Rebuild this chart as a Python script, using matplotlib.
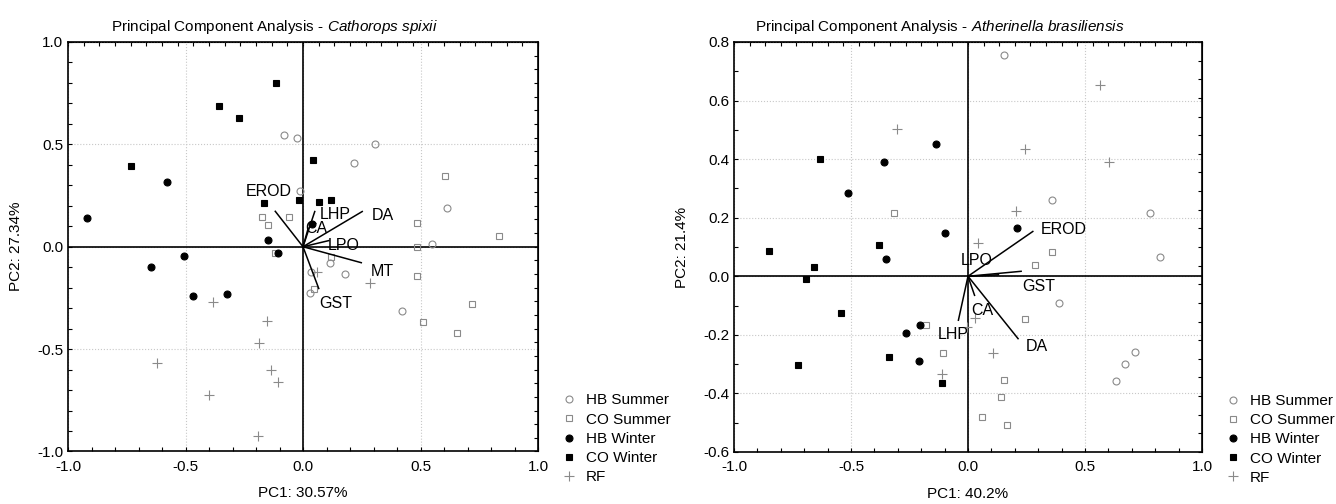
import numpy as np
import matplotlib.pyplot as plt
from matplotlib.ticker import MultipleLocator, FormatStrFormatter
from matplotlib.lines import Line2D

plt.rcParams['font.family'] = ['Liberation Sans', 'DejaVu Sans']
plt.rcParams['mathtext.fontset'] = 'custom'
plt.rcParams['mathtext.rm'] = 'Liberation Sans'
plt.rcParams['mathtext.it'] = 'Liberation Sans:italic'

# ---- Cathorops spixii (left panel) ----
cs_hb_summer_x = [-0.081, -0.025, 0.308, 0.217, -0.012, 0.611, 0.549, 0.114, 0.180, 0.035, 0.031, 0.420]
cs_hb_summer_y = [0.546, 0.533, 0.502, 0.411, 0.274, 0.189, 0.013, -0.081, -0.135, -0.125, -0.226, -0.315]
cs_co_summer_x = [-0.176, -0.061, -0.147, -0.121, 0.606, 0.833, 0.487, 0.483, 0.487, 0.717, 0.512, 0.654, 0.118, 0.046]
cs_co_summer_y = [0.147, 0.147, 0.106, -0.030, 0.346, 0.054, 0.117, 0.000, -0.142, -0.279, -0.370, -0.419, -0.052, -0.205]
cs_hb_winter_x = [-0.918, -0.579, 0.038, -0.147, -0.105, -0.505, -0.645, -0.468, -0.325]
cs_hb_winter_y = [0.139, 0.317, 0.111, 0.035, -0.030, -0.045, -0.101, -0.243, -0.230]
cs_co_winter_x = [-0.116, -0.357, -0.271, -0.732, 0.044, -0.166, -0.017, 0.068, 0.118]
cs_co_winter_y = [0.802, 0.688, 0.631, 0.396, 0.424, 0.212, 0.227, 0.219, 0.227]
cs_rf_x = [0.059, 0.284, -0.383, -0.154, -0.186, -0.621, -0.136, -0.105, -0.400, -0.191]
cs_rf_y = [-0.122, -0.179, -0.269, -0.364, -0.469, -0.569, -0.603, -0.660, -0.726, -0.923]
cs_vars = ['EROD', 'LHP', 'CA', 'DA', 'LPO', 'MT', 'GST']
cs_load_x = [-0.118, 0.050, 0.022, 0.252, 0.110, 0.248, 0.067]
cs_load_y = [0.173, 0.172, 0.090, 0.172, 0.030, -0.078, -0.204]

# ---- Atherinella brasiliensis (right panel) ----
ab_hb_summer_x = [0.153, 0.357, 0.776, 0.820, 0.389, 0.715, 0.672, 0.634]
ab_hb_summer_y = [0.757, 0.261, 0.216, 0.067, -0.091, -0.260, -0.299, -0.358]
ab_co_summer_x = [-0.315, -0.180, -0.105, 0.357, 0.285, 0.245, 0.153, 0.140, 0.061, 0.165]
ab_co_summer_y = [0.216, -0.165, -0.263, 0.083, 0.038, -0.145, -0.353, -0.412, -0.482, -0.508]
ab_hb_winter_x = [-0.136, -0.357, -0.512, -0.099, -0.352, -0.204, -0.265, -0.211, 0.209]
ab_hb_winter_y = [0.453, 0.390, 0.285, 0.147, 0.059, -0.165, -0.194, -0.290, 0.166]
ab_co_winter_x = [-0.634, -0.851, -0.660, -0.382, -0.691, -0.542, -0.726, -0.339, -0.111]
ab_co_winter_y = [0.400, 0.087, 0.033, 0.107, -0.010, -0.125, -0.303, -0.274, -0.363]
ab_rf_x = [-0.303, 0.566, 0.245, 0.603, 0.203, 0.043, 0.030, -0.006, -0.112, 0.106]
ab_rf_y = [0.504, 0.654, 0.435, 0.391, 0.222, 0.114, -0.142, -0.173, -0.332, -0.261]
ab_vars = ['EROD', 'LPO', 'GST', 'CA', 'LHP', 'DA']
ab_load_x = [0.277, 0.130, 0.227, 0.028, -0.041, 0.214]
ab_load_y = [0.153, 0.005, 0.017, -0.065, -0.150, -0.213]

group_names = ['HB Summer', 'CO Summer', 'HB Winter', 'CO Winter', 'RF']
GRAY = '#8a8a8a'
styles = [
    dict(marker='o', mfc='none', mec=GRAY, ms=5, mew=0.8),
    dict(marker='s', mfc='none', mec=GRAY, ms=5, mew=0.8),
    dict(marker='o', mfc='black', mec='black', ms=5, mew=0.8),
    dict(marker='s', mfc='black', mec='black', ms=5, mew=0.8),
    dict(marker='+', mfc='none', mec=GRAY, ms=7, mew=0.8),
]

# label offsets (points) from vector ends
cs_offsets = {'EROD': (-5, 14), 'LHP': (15, -2), 'CA': (6, 0), 'DA': (15, -3),
              'LPO': (11, -3.5), 'MT': (15, -6), 'GST': (12.5, -11)}
ab_offsets = {'EROD': (22.5, 1.3), 'LPO': (-15.5, 10), 'GST': (12.5, -11),
              'CA': (5.5, -11), 'LHP': (-4, -10), 'DA': (13.5, -6)}


def pca_panel(ax, groups, vars_, lx, ly, offsets, yticks, yminor, ylim, right_n, title, xlabel, ylabel):
    for (gx, gy), st, name in zip(groups, styles, group_names):
        ax.plot(gx, gy, ls='none', label=name, zorder=3, **st)
    ax.axhline(0, color='black', lw=1.2, zorder=2)
    ax.axvline(0, color='black', lw=1.2, zorder=2)
    for name, vx, vy in zip(vars_, lx, ly):
        ax.plot([0, vx], [0, vy], color='black', lw=1.1, zorder=4)
        ax.annotate(name, (vx, vy), xytext=offsets[name], textcoords='offset points',
                    ha='center', va='center', fontsize=11.5, zorder=5)
    ax.set_xlim(-1.0, 1.0)
    ax.set_ylim(*ylim)
    ax.set_xticks([-1.0, -0.5, 0.0, 0.5, 1.0])
    ax.set_yticks(yticks)
    ax.xaxis.set_minor_locator(MultipleLocator(0.1))
    ax.yaxis.set_minor_locator(MultipleLocator(yminor))
    ax.xaxis.set_major_formatter(FormatStrFormatter('%.1f'))
    ax.yaxis.set_major_formatter(FormatStrFormatter('%.1f'))
    ax.tick_params(which='both', direction='in', length=3, width=0.8, labelsize=11)
    ax.tick_params(axis='x', pad=6)
    ax.grid(True, which='major', ls=':', color='#c8c8c8', lw=0.8)
    for sp in ax.spines.values():
        sp.set_linewidth(1.2)
    top = ax.secondary_xaxis('top')
    top.set_xticks(np.linspace(-1, 1, 31))
    top.tick_params(direction='in', length=3, width=0.8, labeltop=False)
    right = ax.secondary_yaxis('right')
    right.set_yticks(np.linspace(ylim[0], ylim[1], right_n + 1))
    right.tick_params(direction='in', length=3, width=0.8, labelright=False)
    ax.set_title(title, fontsize=11, pad=8, x=0.44)
    ax.set_xlabel(xlabel, fontsize=11, labelpad=9)
    ax.set_ylabel(ylabel, fontsize=11, labelpad=10)
    handles = [Line2D([], [], ls='none', **st) for st in styles]
    ax.legend(handles, group_names, loc='lower left', bbox_to_anchor=(1.04, -0.095),
              frameon=False, fontsize=11, handlelength=0.8, handletextpad=0.7,
              labelspacing=0.34, borderaxespad=0)


fig = plt.figure(figsize=(13.36, 5.04), dpi=100)
ax1 = fig.add_axes([0.0509, 0.1042, 0.3518, 0.8125])
ax2 = fig.add_axes([0.5494, 0.1032, 0.3503, 0.8135])

pca_panel(ax1,
          [(cs_hb_summer_x, cs_hb_summer_y), (cs_co_summer_x, cs_co_summer_y),
           (cs_hb_winter_x, cs_hb_winter_y), (cs_co_winter_x, cs_co_winter_y),
           (cs_rf_x, cs_rf_y)],
          cs_vars, cs_load_x, cs_load_y, cs_offsets,
          [-1.0, -0.5, 0.0, 0.5, 1.0], 0.1, (-1.0, 1.0), 30,
          r'Principal Component Analysis - $\it{Cathorops\ spixii}$',
          'PC1: 30.57%', 'PC2: 27.34%')

pca_panel(ax2,
          [(ab_hb_summer_x, ab_hb_summer_y), (ab_co_summer_x, ab_co_summer_y),
           (ab_hb_winter_x, ab_hb_winter_y), (ab_co_winter_x, ab_co_winter_y),
           (ab_rf_x, ab_rf_y)],
          ab_vars, ab_load_x, ab_load_y, ab_offsets,
          [-0.6, -0.4, -0.2, 0.0, 0.2, 0.4, 0.6, 0.8], 0.1, (-0.6, 0.8), 22,
          r'Principal Component Analysis - $\it{Atherinella\ brasiliensis}$',
          'PC1: 40.2%', 'PC2: 21.4%')

fig.savefig('out.png', dpi=100)
